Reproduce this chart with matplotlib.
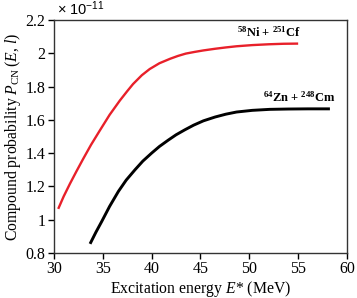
import matplotlib
matplotlib.use("Agg")
import matplotlib.pyplot as plt
import numpy as np
from matplotlib.ticker import FuncFormatter

plt.rcParams['font.family'] = ['Liberation Serif', 'DejaVu Serif']
plt.rcParams['mathtext.fontset'] = 'custom'
plt.rcParams['mathtext.rm'] = 'Liberation Serif'
plt.rcParams['mathtext.it'] = 'Liberation Serif:italic'
plt.rcParams['mathtext.bf'] = 'Liberation Serif:bold'
plt.rcParams['mathtext.sf'] = 'Liberation Sans'

# Data (values in units of 1e-11)
ni_x = [30.44, 31.0, 31.64, 32.3, 33.0, 33.8, 34.7, 35.7, 36.75, 37.5, 38.1, 39.0,
        39.8, 40.8, 41.9, 42.7, 43.5, 44.4, 45.3, 46.5, 47.6, 48.7, 50.3, 52.0, 53.5, 55.0]
ni_y = [1.065, 1.14, 1.216, 1.29, 1.366, 1.45, 1.536, 1.630, 1.716, 1.772, 1.815, 1.868,
        1.905, 1.940, 1.967, 1.984, 1.998, 2.008, 2.017, 2.027, 2.035, 2.042, 2.049, 2.054, 2.057, 2.058]
zn_x = [33.7, 34.3, 34.9, 35.7, 36.6, 37.4, 38.3, 39.1, 40.0, 40.8, 41.7, 42.5, 43.4,
        44.3, 45.3, 46.5, 47.6, 48.7, 50.3, 52.1, 54.0, 56.0, 58.25]
zn_y = [0.855, 0.925, 0.990, 1.080, 1.170, 1.238, 1.300, 1.352, 1.400, 1.440, 1.478, 1.510, 1.540,
        1.568, 1.594, 1.617, 1.634, 1.647, 1.657, 1.663, 1.665, 1.666, 1.666]
xticks = [30, 35, 40, 45, 50, 55, 60]
yticks = [0.8, 1.0, 1.2, 1.4, 1.6, 1.8, 2.0, 2.2]

fig = plt.figure(figsize=(3.57, 2.98), dpi=100)
ax = fig.add_axes([0.151, 0.151, 0.821, 0.782])

ax.plot(ni_x, ni_y, color='#e8202a', lw=1.7, solid_capstyle='butt', solid_joinstyle='round')
ax.plot(zn_x, zn_y, color='black', lw=2.1, solid_capstyle='butt', solid_joinstyle='round')

ax.set_xlim(30, 60)
ax.set_ylim(0.8, 2.2)
ax.set_xticks(xticks)
ax.set_yticks(yticks)
ax.yaxis.set_major_formatter(FuncFormatter(lambda v, p: f"{v:g}"))
ax.tick_params(direction='out', length=4, width=1, labelsize=11.5, pad=2,
               top=False, right=False)
for s in ax.spines.values():
    s.set_color('#333333')
    s.set_linewidth(1.0)

ax.set_xlabel(r"Excitation energy $\mathit{E}$* (MeV)", fontsize=11.3, labelpad=1)
ax.set_ylabel(r"Compound probability $\mathit{P}_{\rm CN}\,(\mathit{E},\,\mathit{l})$",
              fontsize=11.3, labelpad=2)

ax.text(0.01, 1.022, r"$\mathsf{\times\ 10^{-11}}$", transform=ax.transAxes,
        fontsize=10.5, ha='left', va='baseline')

ax.text(52.0, 2.085, r"$^{\mathbf{58}}$Ni + $^{\mathbf{251}}$Cf", fontsize=9,
        fontweight='bold', ha='center', va='bottom')
ax.text(55.1, 1.69, r"$^{\mathbf{64}}$Zn + $^{\mathbf{248}}$Cm", fontsize=9,
        fontweight='bold', ha='center', va='bottom')

fig.savefig("out.png", dpi=100)
